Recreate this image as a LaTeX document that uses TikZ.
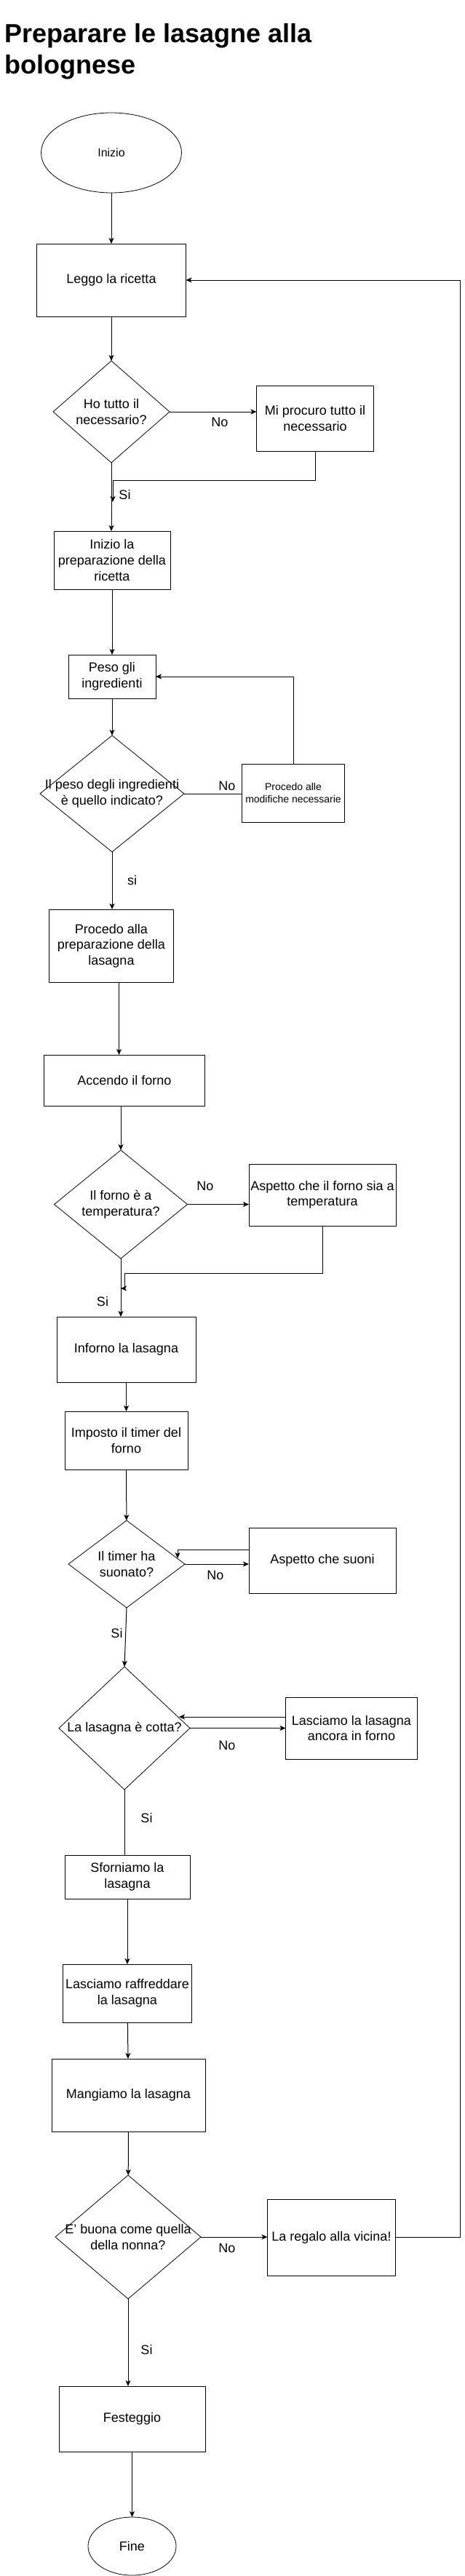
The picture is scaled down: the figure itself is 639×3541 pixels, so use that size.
\documentclass[tikz,border=0pt]{standalone}
\usepackage{fontspec}
\setmainfont{Liberation Sans}
\usetikzlibrary{shapes.geometric,arrows.meta}
\begin{document}
\begin{tikzpicture}[x=1pt,y=-1pt,
  box/.style={draw,line width=1pt,rectangle,inner sep=0pt,outer sep=0pt,align=center,font=\fontsize{18}{21.6}\selectfont},
  dec/.style={draw,line width=0.8pt,diamond,inner sep=0pt,outer sep=0pt},
  term/.style={draw,line width=0.8pt,ellipse,inner sep=0pt,outer sep=0pt,font=\fontsize{17}{20}\selectfont},
  txt/.style={inner sep=0pt,align=center,font=\fontsize{18}{21.6}\selectfont},
  lab/.style={inner sep=0pt,font=\fontsize{18}{21.6}\selectfont},
  arr/.style={line width=1pt,-{Stealth[length=8pt,width=7pt,inset=2pt]}},
  ln/.style={line width=1pt}]
\fill[white] (0,0) rectangle (639,3541);
\useasboundingbox (0,0) rectangle (639,3541);

% title
\node[anchor=north west,inner sep=0pt,align=left,font=\fontsize{36}{43}\selectfont\bfseries] (title) at (6,32) {Preparare le lasagne alla\\bolognese};

% nodes
\node[term,minimum width=193pt,minimum height=110pt,font=\fontsize{16}{19}\selectfont] (ini) at (153,210) {Inizio};
\node[box,minimum width=205pt,minimum height=100pt] (leggo) at (153,385) {Leggo la ricetta};
\node[dec,minimum width=160pt,minimum height=140pt] (d1) at (153,566) {};
\node[txt] at (d1) {Ho tutto il\\necessario?};
\node[box,minimum width=161pt,minimum height=90pt] (mi) at (433,575) {Mi procuro tutto il\\necessario};
\node[box,minimum width=160pt,minimum height=80pt] (prep) at (154,770) {Inizio la\\preparazione della\\ricetta};
\node[box,minimum width=120pt,minimum height=60pt] (peso) at (154,930) {Peso gli\\ingredienti};
\node[dec,minimum width=198pt,minimum height=160pt] (d2) at (154,1091) {};
\node[txt] at (d2) {Il peso degli ingredienti\\è quello indicato?};
\node[box,minimum width=141pt,minimum height=80pt,font=\fontsize{14}{17}\selectfont] (proc) at (403,1090) {Procedo alle\\modifiche necessarie};
\node[box,minimum width=171pt,minimum height=100pt] (pal) at (153,1300) {Procedo alla\\preparazione della\\lasagna};
\node[box,minimum width=221pt,minimum height=70pt] (acc) at (171,1485) {Accendo il forno};
\node[dec,minimum width=183pt,minimum height=149pt] (d3) at (166,1655.5) {};
\node[txt] at (d3) {Il forno è a\\temperatura?};
\node[box,minimum width=202pt,minimum height=85pt] (asp) at (443,1642.5) {Aspetto che il forno sia a\\temperatura};
\node[box,minimum width=191pt,minimum height=90pt] (inf) at (173.5,1855) {Inforno la lasagna};
\node[box,minimum width=169pt,minimum height=80pt] (imp) at (173.5,1980) {Imposto il timer del\\forno};
\node[dec,minimum width=160pt,minimum height=120pt] (d4) at (174,2150) {};
\node[txt] at (d4) {Il timer ha\\suonato?};
\node[box,minimum width=202pt,minimum height=90pt] (asu) at (443,2145) {Aspetto che suoni};
\node[dec,minimum width=180pt,minimum height=169pt] (d5) at (171,2375.5) {};
\node[txt] at (d5) {La lasagna è cotta?};
\node[box,minimum width=181pt,minimum height=85pt] (las) at (483,2375.5) {Lasciamo la lasagna\\ancora in forno};
\node[box,minimum width=172pt,minimum height=60pt] (sfo) at (175,2580) {Sforniamo la\\lasagna};
\node[box,minimum width=177pt,minimum height=80pt] (ras) at (175,2740) {Lasciamo raffreddare\\la lasagna};
\node[box,minimum width=211pt,minimum height=100pt] (man) at (176.5,2880) {Mangiamo la lasagna};
\node[dec,minimum width=200pt,minimum height=170pt] (d6) at (176,3075) {};
\node[txt] at (d6) {E' buona come quella\\della nonna?};
\node[box,minimum width=176pt,minimum height=105pt] (reg) at (455.5,3075.5) {La regalo alla vicina!};
\node[box,minimum width=201pt,minimum height=90pt] (fes) at (181.5,3325) {Festeggio};
\node[term,minimum width=121pt,minimum height=80pt,font=\fontsize{18}{21.6}\selectfont] (fine) at (181.5,3500) {Fine};

% helper coordinates
\coordinate (j1) at (155,690);
\coordinate (j2) at (166,1771);
\coordinate (d4in) at (244,2142);
\coordinate (d5in) at (246,2360);
\coordinate (rtop) at (632,385);

% connectors
\draw[arr] (ini) -- (leggo);
\draw[arr] (leggo) -- (d1);
\draw[arr] (d1.east) -- (d1.east -| mi.west);
\draw[arr] (mi.south) -- ++(0,40) -| (j1);
\draw[arr] (d1.south) -- (d1.south |- prep.north);
\draw[arr] (prep) -- (peso);
\draw[arr] (peso) -- (d2);
\draw[ln] (d2.east) -- (d2.east -| proc.west);
\draw[arr] (proc.north) |- (peso.east);
\draw[arr] (d2.south) -- (d2.south |- pal.north);
\draw[arr] ([xshift=10.5pt]pal.south) -- ([xshift=10.5pt]pal.south |- acc.north);
\draw[arr] (d3.north |- acc.south) -- (d3.north);
\draw[arr] (d3.east) -- (d3.east -| asp.west);
\draw[arr] (asp.south) -- ++(0,65) -| ([xshift=5pt]j2) -- (j2);
\draw[arr] (d3.south) -- (d3.south |- inf.north);
\draw[arr] (inf) -- (imp);
\draw[arr] (imp) -- (d4);
\draw[arr] (d4.east) -- (d4.east -| asu.west);
\draw[arr] ([yshift=15pt]asu.west) -| (d4in);
\draw[arr] (d4.south) -- (d5.north);
\draw[arr] (d5.east) -- (d5.east -| las.west);
\draw[arr] ([yshift=15.5pt]las.west) -- (d5in);
\draw[ln] (d5.south) -- (d5.south |- sfo.north);
\draw[arr] (sfo) -- (ras);
\draw[arr] (ras) -- (man);
\draw[arr] (man) -- (d6);
\draw[arr] (d6.east) -- (d6.east -| reg.west);
\draw[arr] (reg.east) -| (rtop) -- (leggo.east);
\draw[arr] (d6.south) -- (d6.south |- fes.north);
\draw[arr] (fes) -- (fine);

% edge labels
\node[lab] (l1) at (302,580) {No};
\node[lab] (l2) at (171.5,680) {Si};
\node[lab] (l3) at (312,1080) {No};
\node[lab] (l4) at (181.5,1210) {si};
\node[lab] (l5) at (282,1630) {No};
\node[lab] (l6) at (141,1789) {Si};
\node[lab] (l7) at (296,2165) {No};
\node[lab] (l8) at (160.5,2245) {Si};
\node[lab] (l9) at (312,2399) {No};
\node[lab] (l10) at (201.5,2499) {Si};
\node[lab] (l11) at (312,3090) {No};
\node[lab] (l12) at (201.5,3230) {Si};
\end{tikzpicture}
\end{document}
